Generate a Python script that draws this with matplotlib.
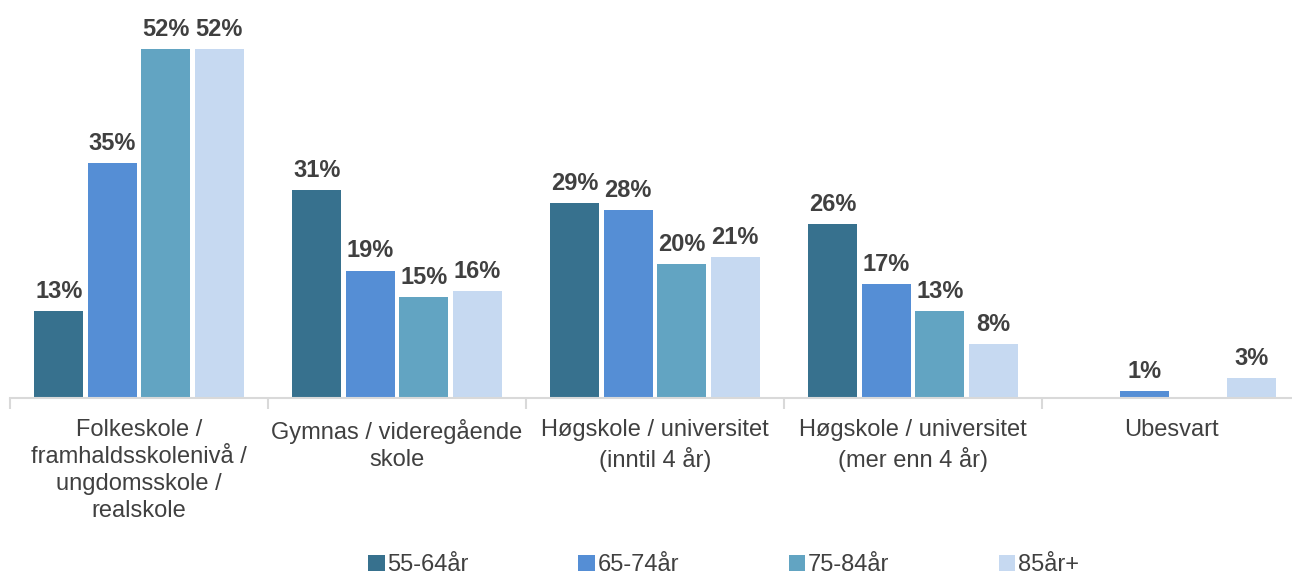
import numpy as np
import matplotlib.pyplot as plt

plt.rcParams['font.family'] = ['Liberation Sans', 'DejaVu Sans']

categories = ["Folkeskole /\nframhaldsskolenivå /\nungdomsskole /\nrealskole",
              "Gymnas / videregående\nskole",
              "Høgskole / universitet\n(inntil 4 år)",
              "Høgskole / universitet\n(mer enn 4 år)",
              "Ubesvart"]
series = ["55-64år", "65-74år", "75-84år", "85år+"]
v_55_64 = [13, 31, 29, 26, 0]
v_65_74 = [35, 19, 28, 17, 1]
v_75_84 = [52, 15, 20, 13, 0]
v_85 = [52, 16, 21, 8, 3]
values = [v_55_64, v_65_74, v_75_84, v_85]
colors = ["#37718E", "#558ED5", "#62A4C2", "#C6D9F1"]

W, H = 1292, 579
fig = plt.figure(figsize=(W / 100, H / 100), dpi=100)
# axes placed in pixel terms: baseline at y=398, x from 10 to 1300
ax = fig.add_axes([10 / W, 181 / H, 1290 / W, 369 / H])

x = np.arange(len(categories))
step = 0.207
width = 0.19
for i, (name, vals, c) in enumerate(zip(series, values, colors)):
    pos = x + (i - 1.5) * step
    bars = ax.bar(pos, vals, width=width, color=c, label=name)
    for p, v in zip(pos, vals):
        if v > 0:
            ax.text(p, v + 1.2, f"{v}%", ha='center', va='bottom',
                    fontsize=17, fontweight='bold', color='#404040')

ax.set_xlim(-0.5, 4.5)
ax.set_ylim(0, 55)
ax.set_yticks([])
for s in ['top', 'left', 'right']:
    ax.spines[s].set_visible(False)
ax.spines['bottom'].set_color('#D9D9D9')
ax.spines['bottom'].set_linewidth(1.5)

ax.set_xticks(x)
ax.set_xticklabels(categories, fontsize=17, color='#404040', linespacing=1.3)
ax.tick_params(axis='x', which='major', length=0, pad=15)
ax.set_xticks(np.arange(-0.5, 5, 1), minor=True)
ax.tick_params(axis='x', which='minor', length=8, width=1.5, color='#D9D9D9')

fig.legend(loc='center', bbox_to_anchor=(0.56, 0.024), ncol=4, frameon=False,
           fontsize=17, handlelength=0.7, handleheight=0.7, handletextpad=0.1,
           columnspacing=4.65, labelcolor='#404040', borderpad=0.1)

fig.savefig("out.png", dpi=100)
